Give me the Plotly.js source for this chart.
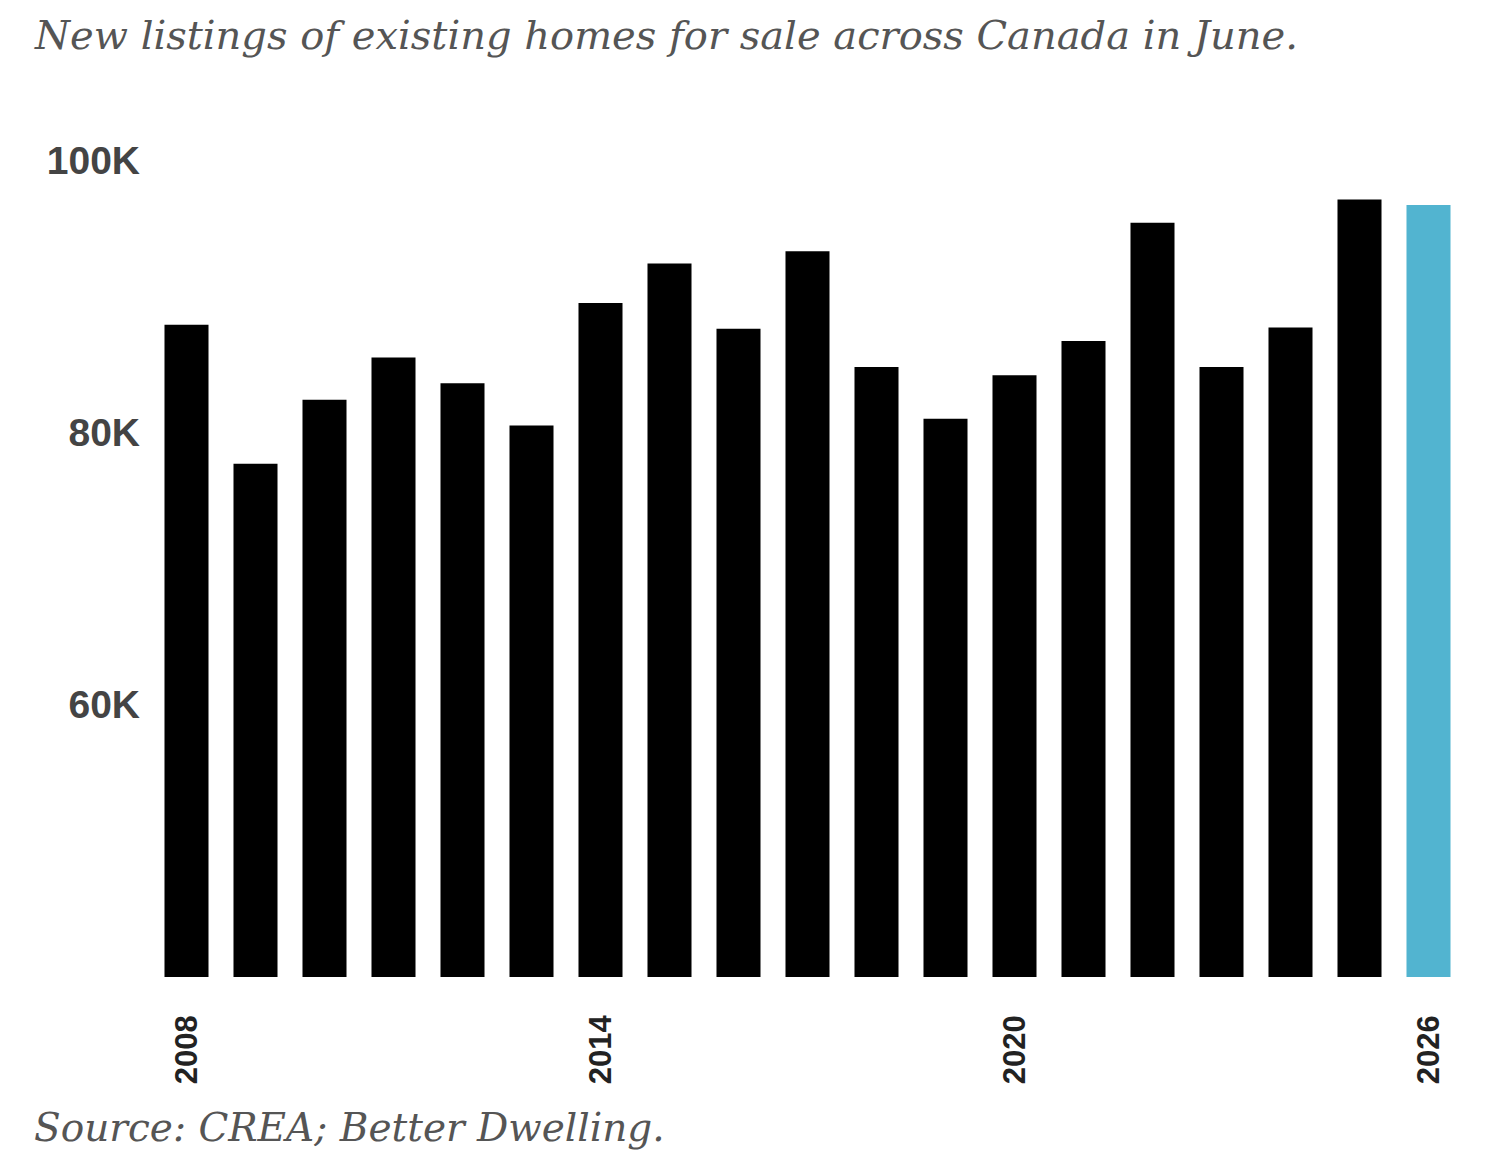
<!DOCTYPE html>
<html>
<head>
<meta charset="utf-8">
<script src="https://cdn.plot.ly/plotly-3.0.1.min.js"></script>
<style>
  html, body { margin: 0; padding: 0; background: #ffffff; }
  #chart { width: 1490px; height: 1162px; }
</style>
</head>
<body>
<div id="chart"></div>
<script>
// Data
const years = [2008, 2009, 2010, 2011, 2012, 2013, 2014, 2015, 2016, 2017,
               2018, 2019, 2020, 2021, 2022, 2023, 2024, 2025, 2026];
const newListings = [87900, 77700, 82400, 85500, 83600, 80500, 89500, 92400, 87600, 93300,
                     84800, 81000, 84200, 86700, 95400, 84800, 87700, 97100, 96700];
const highlightYear = 2026;
const xTickValues = [2008, 2014, 2020, 2026];
const xTickLabels = ['2008', '2014', '2020', '2026'];
const yTickValues = [60000, 80000, 100000];
const yTickLabels = ['60K', '80K', '100K'];
const titleText = 'New listings of existing homes for sale across Canada in June.';
const sourceText = 'Source: CREA; Better Dwelling.';

const barColors = years.map(y => y === highlightYear ? '#52b4d0' : '#000000');

const trace = {
  type: 'bar',
  x: years,
  y: newListings,
  marker: { color: barColors, line: { width: 0 } },
  hoverinfo: 'x+y'
};

const layout = {
  width: 1490,
  height: 1162,
  paper_bgcolor: '#ffffff',
  plot_bgcolor: '#ffffff',
  margin: { l: 152, r: 27, t: 160, b: 185, pad: 0 },
  bargap: 0.362,
  showlegend: false,
  xaxis: {
    range: [2007.5, 2026.5],
    tickmode: 'array',
    tickvals: xTickValues,
    ticktext: xTickLabels,
    tickangle: -90,
    ticks: '',
    ticklabelstandoff: 31,
    showgrid: false,
    zeroline: false,
    showline: false,
    tickfont: { family: 'Liberation Sans, Arial, sans-serif', size: 31, color: '#222222', weight: 'bold' }
  },
  yaxis: {
    range: [40000, 100000],
    tickmode: 'array',
    tickvals: yTickValues,
    ticktext: yTickLabels,
    ticks: '',
    ticklabelstandoff: 11,
    showgrid: false,
    zeroline: false,
    showline: false,
    tickfont: { family: 'Liberation Sans, Arial, sans-serif', size: 39, color: '#444444', weight: 'bold' }
  },
  annotations: [
    {
      text: titleText,
      xref: 'paper', yref: 'paper',
      x: (32 - 152) / 1311, y: (977 - 35) / 817,
      xanchor: 'left', yanchor: 'middle',
      showarrow: false,
      font: { family: 'DejaVu Serif, serif', size: 40, color: '#555555', style: 'italic' }
    },
    {
      text: sourceText,
      xref: 'paper', yref: 'paper',
      x: (32 - 152) / 1311, y: (977 - 1127) / 817,
      xanchor: 'left', yanchor: 'middle',
      showarrow: false,
      font: { family: 'DejaVu Serif, serif', size: 39, color: '#555555', style: 'italic' }
    }
  ]
};

Plotly.newPlot('chart', [trace], layout, { displayModeBar: false, staticPlot: true });
</script>
</body>
</html>
